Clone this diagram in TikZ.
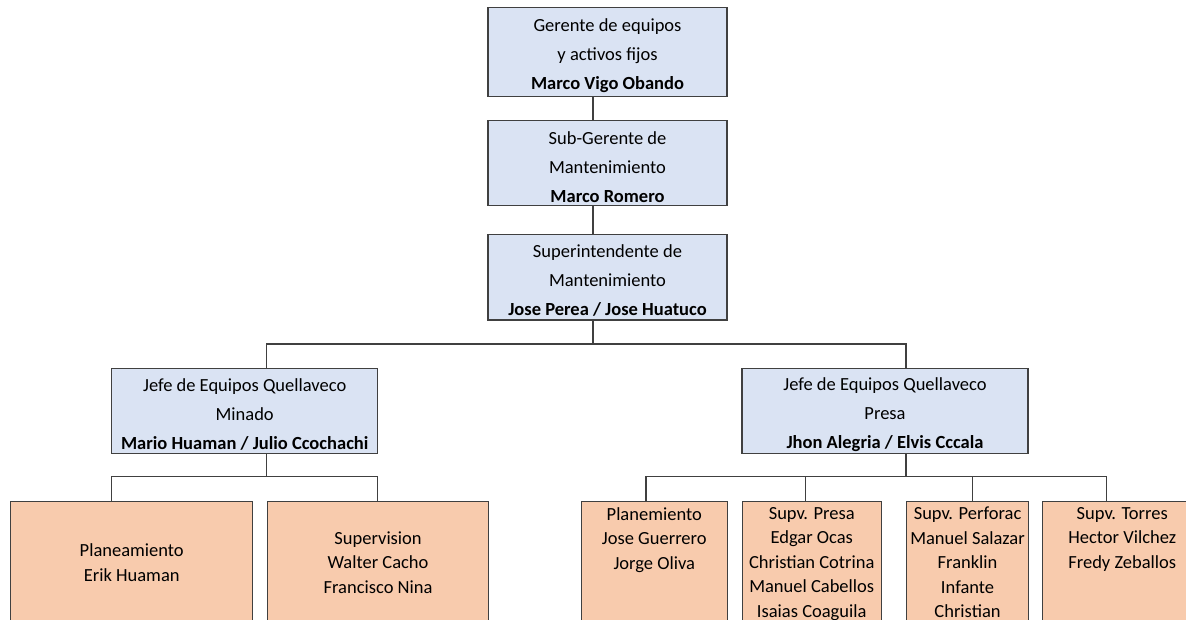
\documentclass[tikz,border=0pt]{standalone}
\usepackage{fontspec}
\setmainfont{Carlito}
\usepackage{tikz}
\definecolor{jefeblue}{HTML}{DAE3F3}
\definecolor{areaorange}{HTML}{F8CBAD}

\begin{document}
\begin{tikzpicture}[x=1pt,y=-1pt,
    box/.style={draw=black!75,line width=1.1pt,inner sep=0pt},
    jefe/.style={box,fill=jefeblue},
    area/.style={box,fill=areaorange,anchor=north west,minimum height=122},
    lbl/.style={inner sep=0pt,align=center,text=black,font=\fontsize{18.5}{29}\selectfont},
    names/.style={lbl,font=\fontsize{18.5}{24.5}\selectfont},
    link/.style={draw=black!75,line width=1.1pt}]
  \useasboundingbox (0,0) rectangle (1186,620);
  \clip (0,0) rectangle (1186,620);
  % Management chain
  \node[jefe,minimum width=239,minimum height=89.5] (ger) at (607.5,52) {};
  \node[jefe,minimum width=239,minimum height=85] (sub) at (607.5,163.2) {};
  \node[jefe,minimum width=239,minimum height=85.7] (sup) at (607.5,277.2) {};
  % Jefes de equipos
  \node[jefe,minimum width=266,minimum height=85] (min) at (244.7,410.8) {};
  \node[jefe,minimum width=286,minimum height=85] (pre) at (885,410.8) {};
  \foreach \n/\t in {ger/{Gerente de equipos\\y activos fijos\\\textbf{Marco Vigo Obando}},
      sub/{Sub-Gerente de\\Mantenimiento\\\textbf{Marco Romero}},
      sup/{Superintendente de\\Mantenimiento\\\textbf{Jose Perea / Jose Huatuco}},
      min/{Jefe de Equipos Quellaveco\\Minado\\\textbf{Mario Huaman / Julio Ccochachi}},
      pre/{Jefe de Equipos Quellaveco\\Presa\\\textbf{Jhon Alegria / Elvis Cccala}}}
    \node[lbl] (\n T) at ([yshift=-3.5]\n.center) {\t};
  % Areas
  \foreach \n/\x/\w in {pa/10/242.3, sv/266.7/221.6, pl/580.7/146, sp/741.7/139, sf/906/122, st/1041.7/160}
    \node[area,minimum width=\w] (\n) at (\x,501) {};
  \node[names] (paT) at (pa.center) {Planeamiento\\Erik Huaman};
  \node[names] (svT) at (sv.center) {Supervision\\Walter Cacho\\Francisco Nina};
  \foreach \n/\t in {pl/{Planemiento\\Jose Guerrero\\Jorge Oliva},
      sp/{Supv. Presa\\Edgar Ocas\\Christian Cotrina\\Manuel Cabellos\\Isaias Coaguila},
      sf/{Supv. Perforac\\Manuel Salazar\\Franklin\\Infante\\Christian},
      st/{Supv. Torres\\Hector Vilchez\\Fredy Zeballos}}
    \node[names,anchor=north] (\n T) at ([yshift=-6]\n.north) {\t};
  % Links
  \coordinate (top) at (593,344);
  \coordinate (lo) at (266.7,476.5);
  \coordinate (ro) at (906,476.5);
  \draw[link] (ger.south -| top) -- (sub.north -| top);
  \draw[link] (sub.south -| top) -- (sup.north -| top);
  \draw[link] (sup.south -| top) -- (top);
  \draw[link] (min.north -| lo) |- (top) -| (pre.north -| ro);
  \draw[link] (min.south -| lo) -- (lo);
  \draw[link] (pre.south -| ro) -- (ro);
  \draw[link] (pa.north -| 111.7,0) |- (lo) -| (sv.north -| 377.7,0);
  \draw[link] (pl.north -| 646,0) |- (ro) -| (st.north -| 1106.7,0);
  \foreach \n/\x in {sp/805.7, sf/972.7}
    \draw[link] (\n.north -| \x,0) -- (ro -| \x,0);
\end{tikzpicture}
\end{document}
